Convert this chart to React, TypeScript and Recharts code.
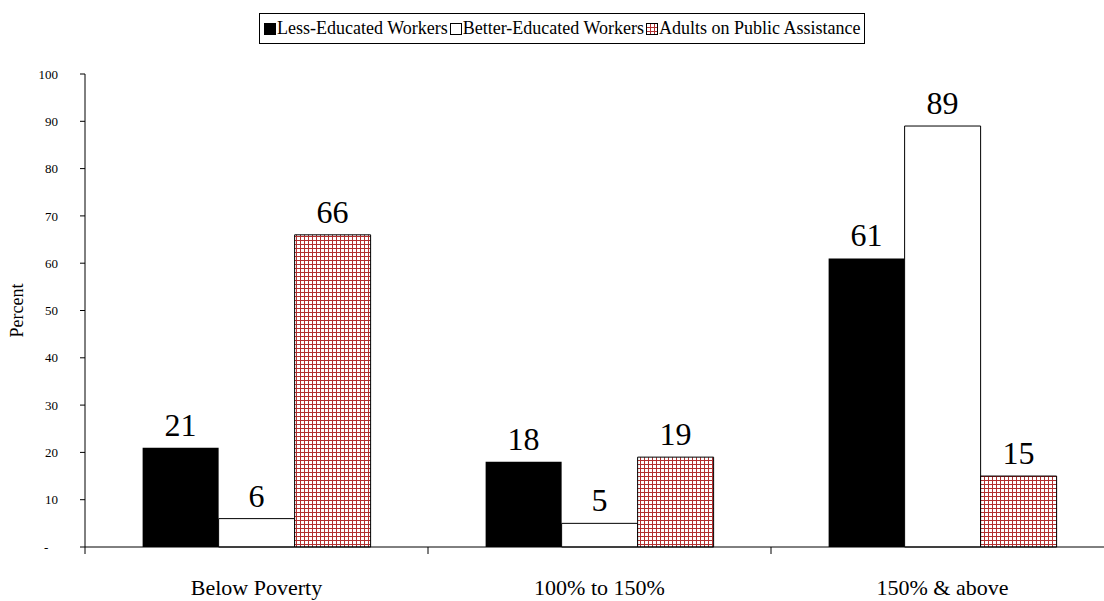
import React from 'react';
import { BarChart, Bar, XAxis, YAxis, Legend, LabelList, Label } from 'recharts';

const categories = ['Below Poverty', '100% to 150%', '150% & above'];
const lessEducated = [21, 18, 61];
const betterEducated = [6, 5, 89];
const publicAssistance = [66, 19, 15];
const yTicks = [0, 10, 20, 30, 40, 50, 60, 70, 80, 90, 100];
const seriesNames = ['Less-Educated Workers', 'Better-Educated Workers', 'Adults on Public Assistance'];

const data = categories.map((c, i) => ({
  name: c,
  less: lessEducated[i],
  better: betterEducated[i],
  assist: publicAssistance[i],
}));

const FONT = "'Liberation Serif', 'Times New Roman', 'DejaVu Serif', serif";
const GRID_RED = '#b23030';

const GridPattern = ({ id }: { id: string }) => (
  <pattern id={id} width={4} height={4} patternUnits="userSpaceOnUse">
    <rect x={0} y={0} width={4} height={4} fill="#ffffff" />
    <line x1={0} y1={0.5} x2={4} y2={0.5} stroke={GRID_RED} strokeWidth={1} />
    <line x1={0.5} y1={0} x2={0.5} y2={4} stroke={GRID_RED} strokeWidth={1} />
  </pattern>
);

const LegendIcon = ({ kind }: { kind: number }) => (
  <svg width={12} height={12} style={{ display: 'block', marginRight: 1 }}>
    <defs>
      <GridPattern id="legendGrid" />
    </defs>
    {kind === 0 && <rect x={0} y={0} width={12} height={12} fill="#000" />}
    {kind === 1 && <rect x={0.5} y={0.5} width={11} height={11} fill="#fff" stroke="#000" />}
    {kind === 2 && <rect x={0.5} y={0.5} width={11} height={11} fill="url(#legendGrid)" stroke="#000" />}
  </svg>
);

const renderLegend = () => (
  <div
    style={{
      display: 'flex',
      alignItems: 'center',
      border: '1px solid #000',
      padding: '3px 2px 3px 4px',
      fontFamily: FONT,
      fontSize: 18,
      lineHeight: '23px',
      color: '#000',
      background: '#fff',
      whiteSpace: 'nowrap',
    }}
  >
    {seriesNames.map((n, i) => (
      <div key={n} style={{ display: 'flex', alignItems: 'center', marginRight: 2 }}>
        <LegendIcon kind={i} />
        <span>{n}</span>
      </div>
    ))}
  </div>
);

const XTick = (props: any) => {
  const { x, y, payload } = props;
  const half = payload && typeof payload.offset === 'number' ? payload.offset : 0;
  return (
    <g>
      {half > 0 && <line x1={x - half} x2={x - half} y1={y} y2={y + 7} stroke="#000" strokeWidth={1} />}
      <text x={x} y={y + 48} textAnchor="middle" style={{ fontFamily: FONT, fontSize: 22 }} fill="#000">
        {payload.value}
      </text>
    </g>
  );
};

const yFormatter = (v: number) => (v === 0 ? '-\u00A0\u00A0\u00A0' : String(v));

const dataLabelStyle = { fontFamily: FONT, fontSize: 32, fill: '#000' };

export default function App() {
  return (
    <div style={{ position: 'absolute', left: 0, top: 0, width: 1104, height: 601, overflow: 'hidden', background: '#fff', fontFamily: FONT }}>
      <BarChart
        width={1120}
        height={601}
        data={data}
        margin={{ top: 74, right: 6, bottom: 14, left: 0 }}
        barCategoryGap="16.8%"
        barGap={0}
        style={{ fontFamily: FONT }}
      >
        <defs>
          <GridPattern id="barGrid" />
        </defs>
        <XAxis
          dataKey="name"
          height={40}
          axisLine={{ stroke: '#000', strokeWidth: 1 }}
          tickLine={false}
          tickSize={0}
          tickMargin={0}
          tick={<XTick />}
          interval={0}
        />
        <YAxis
          width={85}
          domain={[0, 100]}
          ticks={yTicks}
          interval={0}
          tickFormatter={yFormatter}
          axisLine={{ stroke: '#000', strokeWidth: 1 }}
          tickLine={{ stroke: '#000', strokeWidth: 1 }}
          tickSize={5}
          tickMargin={22}
          tick={{ style: { fontFamily: FONT, fontSize: 13 }, fill: '#000' }}
        >
          <Label
            content={(p: any) => {
              const vb = p.viewBox || { x: 0, y: 74, height: 473 };
              const cx = 17;
              const cy = vb.y + vb.height / 2;
              return (
                <text
                  x={cx}
                  y={cy}
                  transform={`rotate(-90 ${cx} ${cy})`}
                  textAnchor="middle"
                  dominantBaseline="central"
                  style={{ fontFamily: FONT, fontSize: 18 }}
                  fill="#000"
                >
                  Percent
                </text>
              );
            }}
          />
        </YAxis>
        <Legend
          layout="horizontal"
          verticalAlign="middle"
          align="center"
          content={renderLegend}
          wrapperStyle={{ top: 13, left: 259, width: 'auto', height: 'auto' }}
        />
        <Bar dataKey="less" name={seriesNames[0]} fill="#000" stroke="none" isAnimationActive={false}>
          <LabelList dataKey="less" position="top" offset={12} style={dataLabelStyle} />
        </Bar>
        <Bar dataKey="better" name={seriesNames[1]} fill="#fff" stroke="#000" strokeWidth={1} isAnimationActive={false}>
          <LabelList dataKey="better" position="top" offset={12} style={dataLabelStyle} />
        </Bar>
        <Bar dataKey="assist" name={seriesNames[2]} fill="url(#barGrid)" stroke="#000" strokeWidth={1} isAnimationActive={false}>
          <LabelList dataKey="assist" position="top" offset={12} style={dataLabelStyle} />
        </Bar>
      </BarChart>
    </div>
  );
}
